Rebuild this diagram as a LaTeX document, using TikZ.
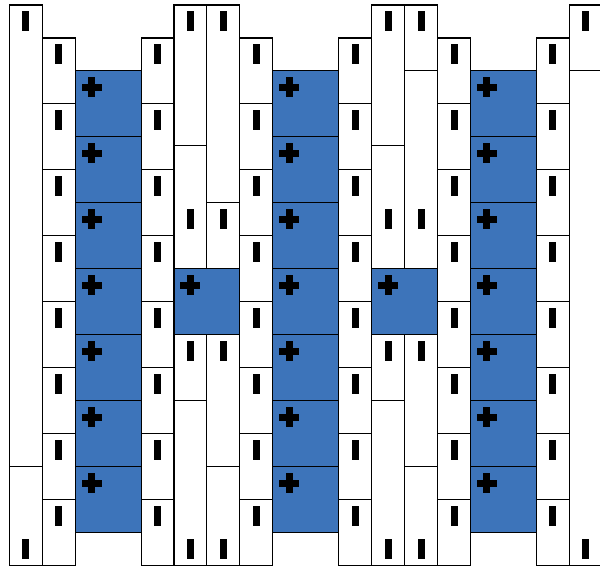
\documentclass[tikz,border=0pt]{standalone}
\definecolor{cellblue}{RGB}{61,116,186}
\tikzset{
  cellw/.style={draw=black, fill=white, line width=1.1pt},
  cellb/.style={draw=black, fill=cellblue, line width=1.1pt},
  markfill/.style={fill=black},
}
\newcommand\myBarI[2]{\fill[markfill] ({#1+0.5-0.106},{#2+0.5-0.303}) rectangle ({#1+0.5+0.106},{#2+0.5+0.303});}
\newcommand\myCrossP[2]{\fill[markfill] ({#1+0.5-0.303},{#2+0.5-0.106}) rectangle ({#1+0.5+0.303},{#2+0.5+0.106});
  \fill[markfill] ({#1+0.5-0.106},{#2+0.5-0.303}) rectangle ({#1+0.5+0.106},{#2+0.5+0.303});}
\begin{document}
\begin{tikzpicture}[x=32.94pt,y=-32.97pt]
\useasboundingbox (-0.2823,-0.1517) rectangle (17.932,17.046);
% outer left column
\draw[cellw] (0,0) rectangle (1,14);
\draw[cellw] (0,14) rectangle (1,17);
\myBarI{0}{0}
\myBarI{0}{16}
% staggered single columns
\foreach \c in {1,4,7,10,13,16} {
  \foreach \r in {1,3,...,15} {
    \draw[cellw] (\c,\r) rectangle (\c+1,\r+2);
    \myBarI{\c}{\r}
  }
}
% blue double columns
\foreach \c in {2,8,14} {
  \foreach \r in {2,4,...,14} {
    \draw[cellb] (\c,\r) rectangle (\c+2,\r+2);
    \myCrossP{\c}{\r}
  }
}
% middle pairs
\foreach \c in {5,11} {
  \draw[cellw] (\c,0) rectangle (\c+1,4.27);
  \draw[cellw] (\c,4.27) rectangle (\c+1,8);
  \draw[cellw] (\c,10) rectangle (\c+1,12);
  \draw[cellw] (\c,12) rectangle (\c+1,17);
  \draw[cellw] (\c+1,10) rectangle (\c+2,14);
  \draw[cellw] (\c+1,14) rectangle (\c+2,17);
  \draw[cellb] (\c,8) rectangle (\c+2,10);
  \myCrossP{\c}{8}
  \foreach \r in {0,6,10,16} {
    \myBarI{\c}{\r}
    \myBarI{\c+1}{\r}
  }
}
\draw[cellw] (6,0) rectangle (7,6);
\draw[cellw] (6,6) rectangle (7,8);
\draw[cellw] (12,0) rectangle (13,2);
\draw[cellw] (12,2) rectangle (13,8);
\foreach \r in {0,6,16} {\myBarI{6}{\r}}
\foreach \r in {0,6} {\myBarI{12}{\r}}
% right edge column
\draw[cellw] (17,0) rectangle (18,2);
\draw[cellw] (17,2) rectangle (18,17);
\myBarI{17}{0}
\myBarI{17}{16}
\end{tikzpicture}
\end{document}
